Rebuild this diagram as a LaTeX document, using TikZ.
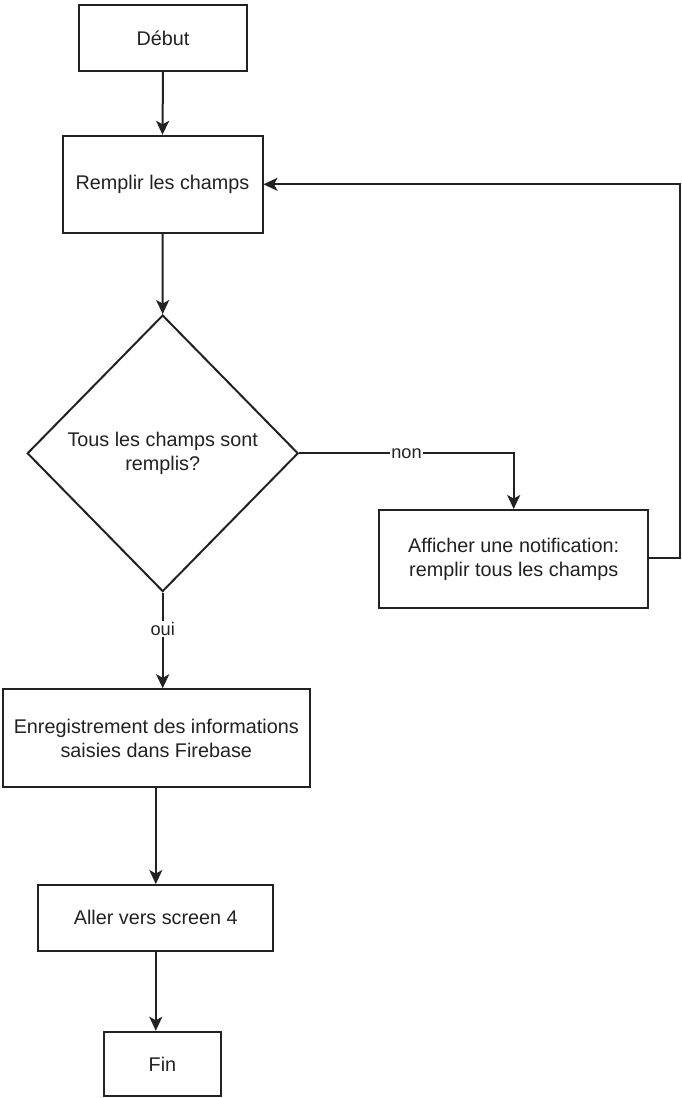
\documentclass[tikz,border=0pt]{standalone}
\usepackage{fontspec}
\setmainfont{Liberation Sans}
\usetikzlibrary{shapes.geometric,arrows.meta}
\definecolor{ink}{HTML}{222222}
\begin{document}
\begin{tikzpicture}[x=1pt,y=-1pt,
  every node/.style={text=ink},
  stepbox/.style={draw=ink,line width=2pt,fill=white,inner sep=0pt,align=center,
    font=\fontsize{19.8}{23.8}\selectfont},
  decision/.style={diamond,draw=ink,line width=2pt,fill=white,inner sep=0pt,align=center,
    font=\fontsize{19.8}{23.8}\selectfont},
  link/.style={draw=ink,line width=2pt,-{Stealth[length=14pt,width=13pt,inset=3.5pt]}},
  edgelabel/.style={fill=white,inner sep=1.5pt,font=\fontsize{18.2}{21}\selectfont}]
\useasboundingbox (0,0) rectangle (681,1098);

\node[stepbox,minimum width=168pt,minimum height=66pt] (debut) at (163,38) {Début};
\node[stepbox,minimum width=200pt,minimum height=97pt] (remplir) at (162.5,184.3) {Remplir les champs};
\node[decision,minimum width=271pt,minimum height=276.5pt] (dec) at (162.7,453.3)
  {Tous les champs sont\\remplis?};
\node[stepbox,minimum width=268.7pt,minimum height=98.3pt] (notif) at (513.7,559.2)
  {Afficher une notification:\\remplir tous les champs};
\node[stepbox,minimum width=307.3pt,minimum height=98pt] (enreg) at (156.3,738.3)
  {Enregistrement des informations\\saisies dans Firebase};
\node[stepbox,minimum width=235pt,minimum height=65.7pt] (aller) at (155.8,917.9) {Aller vers screen 4};
\node[stepbox,minimum width=117pt,minimum height=64.3pt] (fin) at (162.5,1063.9) {Fin};

\coordinate (loopb) at (679.5,558.3);
\coordinate (loopt) at (679.5,184.3);

\draw[link] (debut.south) -- (remplir.north);
\draw[link] (remplir.south) -- (dec.north);
\draw[link] (dec.east) -| node[edgelabel,pos=0.25] {non} (notif.north);
\draw[link] (notif.east |- loopb) -- (loopb) -- (loopt) -- (remplir.east);
\draw[link] (dec.south) -- node[edgelabel,pos=0.38] {oui} (dec.south |- enreg.north);
\draw[link] (enreg.south -| aller.north) -- (aller.north);
\draw[link] (aller.south) -- (aller.south |- fin.north);
\end{tikzpicture}
\end{document}
